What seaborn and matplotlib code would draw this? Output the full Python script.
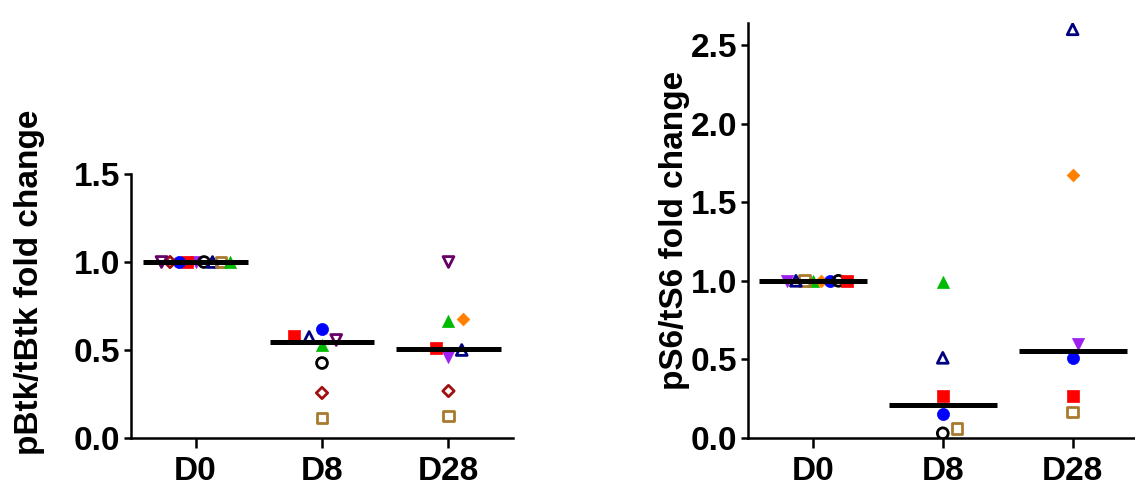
import numpy as np
import pandas as pd
import matplotlib
matplotlib.use("Agg")
import matplotlib.pyplot as plt
import seaborn as sns

# ---------------- data ----------------
days = ["D0", "D8", "D28"]

# subject styles (marker, colour, filled)
subject_styles = {
    "S1": ("s", "#FF0000", True),    # red filled square
    "S2": ("v", "#660066", False),   # purple open triangle down
    "S3": ("^", "#00BB00", True),    # green filled triangle
    "S4": ("^", "#000080", False),   # navy open triangle
    "S5": ("o", "#0000FF", True),    # blue filled circle
    "S6": ("o", "#000000", False),   # black open circle
    "S7": ("D", "#A01010", False),   # dark red open diamond
    "S8": ("s", "#A87A2E", False),   # brown open square
    "S9": ("D", "#FF8000", True),    # orange filled diamond
    "S10": ("v", "#A020F0", True),   # violet filled triangle down
}

btk_d0_subjects = ["S10", "S6", "S1", "S4", "S5", "S8", "S7", "S3", "S2"]
btk_d0_values = [1.0, 1.0, 1.0, 1.0, 1.0, 1.0, 1.0, 1.0, 1.0]
btk_d8_subjects = ["S1", "S2", "S3", "S4", "S5", "S6", "S7", "S8"]
btk_d8_values = [0.58, 0.557, 0.53, 0.574, 0.62, 0.426, 0.256, 0.114]
btk_d28_subjects = ["S2", "S9", "S3", "S4", "S1", "S10", "S7", "S8"]
btk_d28_values = [1.0, 0.675, 0.665, 0.50, 0.51, 0.46, 0.267, 0.125]

s6_d0_subjects = ["S3", "S9", "S8", "S5", "S4", "S6", "S10", "S1"]
s6_d0_values = [1.0, 1.0, 1.0, 1.0, 1.0, 1.0, 1.0, 1.0]
s6_d8_subjects = ["S3", "S4", "S1", "S5", "S6", "S8"]
s6_d8_values = [0.99, 0.51, 0.27, 0.15, 0.03, 0.06]
s6_d28_subjects = ["S4", "S9", "S10", "S5", "S1", "S8"]
s6_d28_values = [2.6, 1.67, 0.60, 0.51, 0.27, 0.165]

btk_label = "pBtk/tBtk fold change"
s6_label = "pS6/tS6 fold change"


def make_frame(groups):
    rows = []
    for day, subs, vals in groups:
        for s, v in zip(subs, vals):
            rows.append({"day": day, "subject": s, "value": v})
    return pd.DataFrame(rows)


btk_df = make_frame([("D0", btk_d0_subjects, btk_d0_values),
                     ("D8", btk_d8_subjects, btk_d8_values),
                     ("D28", btk_d28_subjects, btk_d28_values)])
s6_df = make_frame([("D0", s6_d0_subjects, s6_d0_values),
                    ("D8", s6_d8_subjects, s6_d8_values),
                    ("D28", s6_d28_subjects, s6_d28_values)])


# ---------------- layout helpers ----------------
def swarm_offsets(vals, d_px, px_per_unit, px_per_cat, max_px):
    ys = np.asarray(vals, float) * px_per_unit
    order = np.argsort(ys, kind="stable")
    placed = []
    xs = np.zeros(len(ys))
    for i in order:
        y = ys[i]
        cands = [0.0]
        for px, py in placed:
            dy = abs(py - y)
            if dy < d_px:
                dx = np.sqrt(d_px ** 2 - dy ** 2)
                cands += [px - dx, px + dx]
        cands = sorted(cands, key=lambda c: (abs(c), -c))
        for c in cands:
            if all((c - px) ** 2 + (y - py) ** 2 >= d_px ** 2 - 1e-6 for px, py in placed):
                xs[i] = c
                break
        placed.append((xs[i], y))
    m = np.abs(xs).max() if len(xs) else 0
    if m > max_px:
        xs = xs * max_px / m
    return xs / px_per_cat


sns.set_style("ticks")
plt.rcParams["font.family"] = ["Liberation Sans", "DejaVu Sans"]
plt.rcParams["font.weight"] = "bold"
for key in ("text.color", "axes.labelcolor", "xtick.color", "ytick.color", "axes.edgecolor"):
    plt.rcParams[key] = "black"

W, H = 1135, 487
fig = plt.figure(figsize=(W / 100, H / 100), dpi=100)

ax1 = fig.add_axes([131 / W, 49 / H, 382 / W, 264 / H])
ax2 = fig.add_axes([748 / W, 49 / H, (W - 748) / W, 415 / H])


def draw_panel(ax, df, ylim, yticks, xlim, label):
    px_per_unit = ax.get_position().height * H / (ylim[1] - ylim[0])
    px_per_cat = ax.get_position().width * W / (xlim[1] - xlim[0])
    df = df.copy()
    df["pos"] = 0.0
    for i, d in enumerate(days):
        m = df["day"] == d
        offs = swarm_offsets(df.loc[m, "value"].values, 15, px_per_unit, px_per_cat, 34)
        df.loc[m, "pos"] = i + offs
    for subj, sub in df.groupby("subject", sort=False):
        mk, col, filled = subject_styles[subj]
        size = 42 if mk == "D" else 76
        if filled:
            sns.scatterplot(data=sub, x="pos", y="value", ax=ax, marker=mk, s=size,
                            color=col, edgecolor=col, linewidth=0.5, zorder=3, legend=False)
        else:
            sns.scatterplot(data=sub, x="pos", y="value", ax=ax, marker=mk, s=size * 0.8,
                            color=col, facecolors="none", edgecolor=col, linewidth=2.0,
                            zorder=3, legend=False)
    med = df.groupby("day", sort=False)["value"].median()
    for i, d in enumerate(days):
        ax.hlines(med[d], i - 0.415, i + 0.415, color="black", lw=3.6, zorder=4)
    ax.set_xlim(*xlim)
    ax.set_ylim(*ylim)
    ax.set_xticks(range(len(days)))
    ax.set_xticklabels(days)
    ax.set_yticks(yticks)
    ax.set_yticklabels([f"{t:.1f}" for t in yticks])
    ax.set_xlabel("")
    ax.set_ylabel(label, fontsize=24, fontweight="bold", color="black")
    ax.tick_params(axis="both", labelsize=24, width=1.8, color="black", labelcolor="black")
    ax.tick_params(axis="x", length=7, pad=6)
    ax.tick_params(axis="y", length=5, pad=3)
    for t in ax.get_xticklabels() + ax.get_yticklabels():
        t.set_fontweight("bold")
    sns.despine(ax=ax)
    for sp in ("left", "bottom"):
        ax.spines[sp].set_linewidth(1.8)
        ax.spines[sp].set_color("black")


draw_panel(ax1, btk_df, (0, 1.5), [0, 0.5, 1.0, 1.5], (-0.51, 2.51), btk_label)
draw_panel(ax2, s6_df, (0, 2.64), [0, 0.5, 1.0, 1.5, 2.0, 2.5], (-0.5, 2.48), s6_label)

ax1.yaxis.set_label_coords(-0.225, 0.59)
ax2.yaxis.set_label_coords(-0.15, 0.5)

fig.savefig("out.png", dpi=100)
